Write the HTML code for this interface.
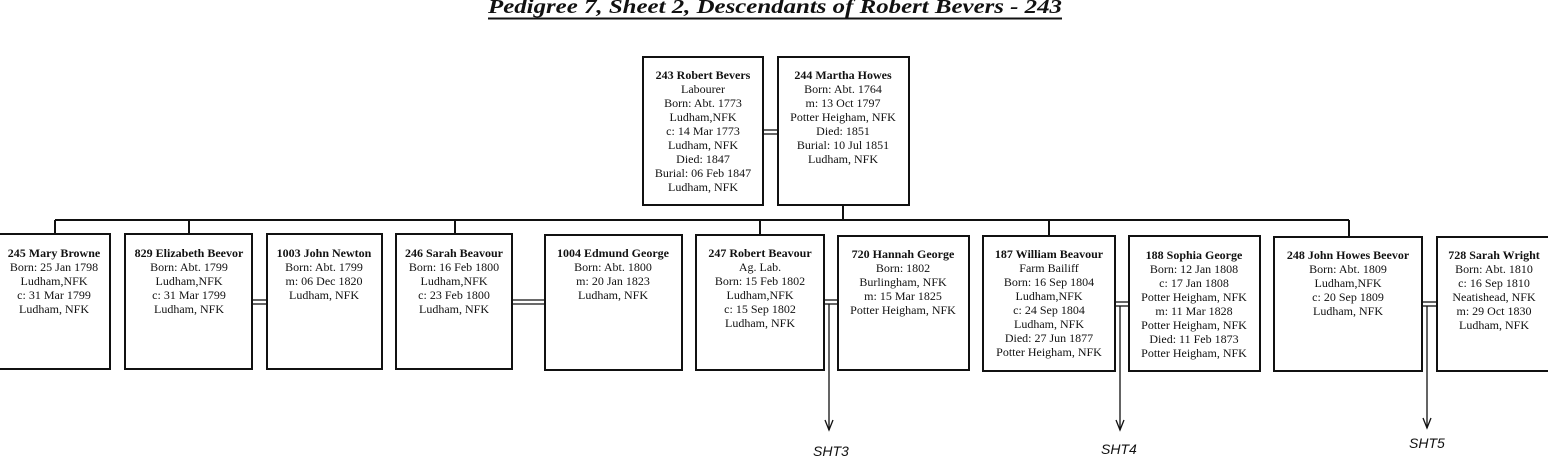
<!DOCTYPE html>
<html><head><meta charset="utf-8"><style>
html,body{margin:0;padding:0;background:#fff;}
svg{display:block}
text{font-family:"Liberation Serif",serif;fill:#111;}
.t{font-size:12px;text-anchor:middle}
.b{font-weight:bold}
</style></head><body>
<svg width="1548" height="459" viewBox="0 0 1548 459" xmlns="http://www.w3.org/2000/svg">
<text x="488" y="13" font-size="20" font-weight="bold" font-style="italic" textLength="574" lengthAdjust="spacingAndGlyphs">Pedigree 7, Sheet 2, Descendants of Robert Bevers - 243</text>
<rect x="488" y="17.5" width="574" height="2" fill="#111"/>
<g fill="none" stroke="#111" stroke-width="2">
<rect x="643" y="57" width="120" height="148"/>
<rect x="778" y="57" width="131" height="148"/>
<line x1="763" y1="130" x2="778" y2="130" stroke-width="1.3"/>
<line x1="763" y1="134" x2="778" y2="134" stroke-width="1.3"/>
<line x1="843" y1="205" x2="843" y2="220"/>
<line x1="55" y1="220" x2="1349" y2="220"/>
<line x1="55" y1="220" x2="55" y2="234"/>
<line x1="189" y1="220" x2="189" y2="234"/>
<line x1="455" y1="220" x2="455" y2="234"/>
<line x1="760" y1="220" x2="760" y2="235"/>
<line x1="1049" y1="220" x2="1049" y2="236"/>
<line x1="1349" y1="220" x2="1349" y2="236"/>
<rect x="-5" y="234" width="115" height="135"/>
<rect x="125" y="234" width="127" height="135"/>
<rect x="267" y="234" width="115" height="135"/>
<rect x="396" y="234" width="116" height="135"/>
<rect x="545" y="235" width="137" height="135"/>
<rect x="696" y="235" width="128" height="135"/>
<rect x="838" y="236" width="131" height="134"/>
<rect x="983" y="236" width="132" height="135"/>
<rect x="1129" y="236" width="131" height="135"/>
<rect x="1274" y="237" width="148" height="134"/>
<rect x="1437" y="237" width="120" height="134"/>
<g stroke-width="1.3">
<line x1="252" y1="300" x2="267" y2="300"/><line x1="252" y1="304" x2="267" y2="304"/>
<line x1="512" y1="300" x2="545" y2="300"/><line x1="512" y1="304" x2="545" y2="304"/>
<line x1="824" y1="300" x2="838" y2="300"/><line x1="824" y1="304" x2="838" y2="304"/>
<line x1="1115" y1="302" x2="1129" y2="302"/><line x1="1115" y1="306" x2="1129" y2="306"/>
<line x1="1422" y1="302" x2="1437" y2="302"/><line x1="1422" y1="306" x2="1437" y2="306"/>
<line x1="829" y1="304" x2="829" y2="430"/><path d="M825 420 L829 430 L833 420"/>
<line x1="1120" y1="306" x2="1120" y2="430"/><path d="M1116 420 L1120 430 L1124 420"/>
<line x1="1427" y1="306" x2="1427" y2="428"/><path d="M1423 418 L1427 428 L1431 418"/>
</g>
</g>
<g fill="#222">
<text x="813" y="456" style="font-family:'Liberation Sans',sans-serif;font-size:14px;font-style:italic">SHT3</text>
<text x="1101" y="454" style="font-family:'Liberation Sans',sans-serif;font-size:14px;font-style:italic">SHT4</text>
<text x="1409" y="448" style="font-family:'Liberation Sans',sans-serif;font-size:14px;font-style:italic">SHT5</text>
</g>
<g class="t">
<text x="703" y="79"><tspan class="b" x="703">243 Robert Bevers</tspan><tspan x="703" dy="14">Labourer</tspan><tspan x="703" dy="14">Born: Abt. 1773</tspan><tspan x="703" dy="14">Ludham,NFK</tspan><tspan x="703" dy="14">c: 14 Mar 1773</tspan><tspan x="703" dy="14">Ludham, NFK</tspan><tspan x="703" dy="14">Died: 1847</tspan><tspan x="703" dy="14">Burial: 06 Feb 1847</tspan><tspan x="703" dy="14">Ludham, NFK</tspan></text>
<text x="843" y="79"><tspan class="b" x="843">244 Martha Howes</tspan><tspan x="843" dy="14">Born: Abt. 1764</tspan><tspan x="843" dy="14">m: 13 Oct 1797</tspan><tspan x="843" dy="14">Potter Heigham, NFK</tspan><tspan x="843" dy="14">Died: 1851</tspan><tspan x="843" dy="14">Burial: 10 Jul 1851</tspan><tspan x="843" dy="14">Ludham, NFK</tspan></text>
<text x="54" y="257"><tspan class="b" x="54">245 Mary Browne</tspan><tspan x="54" dy="14">Born: 25 Jan 1798</tspan><tspan x="54" dy="14">Ludham,NFK</tspan><tspan x="54" dy="14">c: 31 Mar 1799</tspan><tspan x="54" dy="14">Ludham, NFK</tspan></text>
<text x="189" y="257"><tspan class="b" x="189">829 Elizabeth Beevor</tspan><tspan x="189" dy="14">Born: Abt. 1799</tspan><tspan x="189" dy="14">Ludham,NFK</tspan><tspan x="189" dy="14">c: 31 Mar 1799</tspan><tspan x="189" dy="14">Ludham, NFK</tspan></text>
<text x="324" y="257"><tspan class="b" x="324">1003 John Newton</tspan><tspan x="324" dy="14">Born: Abt. 1799</tspan><tspan x="324" dy="14">m: 06 Dec 1820</tspan><tspan x="324" dy="14">Ludham, NFK</tspan></text>
<text x="454" y="257"><tspan class="b" x="454">246 Sarah Beavour</tspan><tspan x="454" dy="14">Born: 16 Feb 1800</tspan><tspan x="454" dy="14">Ludham,NFK</tspan><tspan x="454" dy="14">c: 23 Feb 1800</tspan><tspan x="454" dy="14">Ludham, NFK</tspan></text>
<text x="613" y="257"><tspan class="b" x="613">1004 Edmund George</tspan><tspan x="613" dy="14">Born: Abt. 1800</tspan><tspan x="613" dy="14">m: 20 Jan 1823</tspan><tspan x="613" dy="14">Ludham, NFK</tspan></text>
<text x="760" y="257"><tspan class="b" x="760">247 Robert Beavour</tspan><tspan x="760" dy="14">Ag. Lab.</tspan><tspan x="760" dy="14">Born: 15 Feb 1802</tspan><tspan x="760" dy="14">Ludham,NFK</tspan><tspan x="760" dy="14">c: 15 Sep 1802</tspan><tspan x="760" dy="14">Ludham, NFK</tspan></text>
<text x="903" y="258"><tspan class="b" x="903">720 Hannah George</tspan><tspan x="903" dy="14">Born: 1802</tspan><tspan x="903" dy="14">Burlingham, NFK</tspan><tspan x="903" dy="14">m: 15 Mar 1825</tspan><tspan x="903" dy="14">Potter Heigham, NFK</tspan></text>
<text x="1049" y="258"><tspan class="b" x="1049">187 William Beavour</tspan><tspan x="1049" dy="14">Farm Bailiff</tspan><tspan x="1049" dy="14">Born: 16 Sep 1804</tspan><tspan x="1049" dy="14">Ludham,NFK</tspan><tspan x="1049" dy="14">c: 24 Sep 1804</tspan><tspan x="1049" dy="14">Ludham, NFK</tspan><tspan x="1049" dy="14">Died: 27 Jun 1877</tspan><tspan x="1049" dy="14">Potter Heigham, NFK</tspan></text>
<text x="1194" y="259"><tspan class="b" x="1194">188 Sophia George</tspan><tspan x="1194" dy="14">Born: 12 Jan 1808</tspan><tspan x="1194" dy="14">c: 17 Jan 1808</tspan><tspan x="1194" dy="14">Potter Heigham, NFK</tspan><tspan x="1194" dy="14">m: 11 Mar 1828</tspan><tspan x="1194" dy="14">Potter Heigham, NFK</tspan><tspan x="1194" dy="14">Died: 11 Feb 1873</tspan><tspan x="1194" dy="14">Potter Heigham, NFK</tspan></text>
<text x="1348" y="259"><tspan class="b" x="1348">248 John Howes Beevor</tspan><tspan x="1348" dy="14">Born: Abt. 1809</tspan><tspan x="1348" dy="14">Ludham,NFK</tspan><tspan x="1348" dy="14">c: 20 Sep 1809</tspan><tspan x="1348" dy="14">Ludham, NFK</tspan></text>
<text x="1494" y="259"><tspan class="b" x="1494">728 Sarah Wright</tspan><tspan x="1494" dy="14">Born: Abt. 1810</tspan><tspan x="1494" dy="14">c: 16 Sep 1810</tspan><tspan x="1494" dy="14">Neatishead, NFK</tspan><tspan x="1494" dy="14">m: 29 Oct 1830</tspan><tspan x="1494" dy="14">Ludham, NFK</tspan></text>
</g>
</svg>
</body></html>
